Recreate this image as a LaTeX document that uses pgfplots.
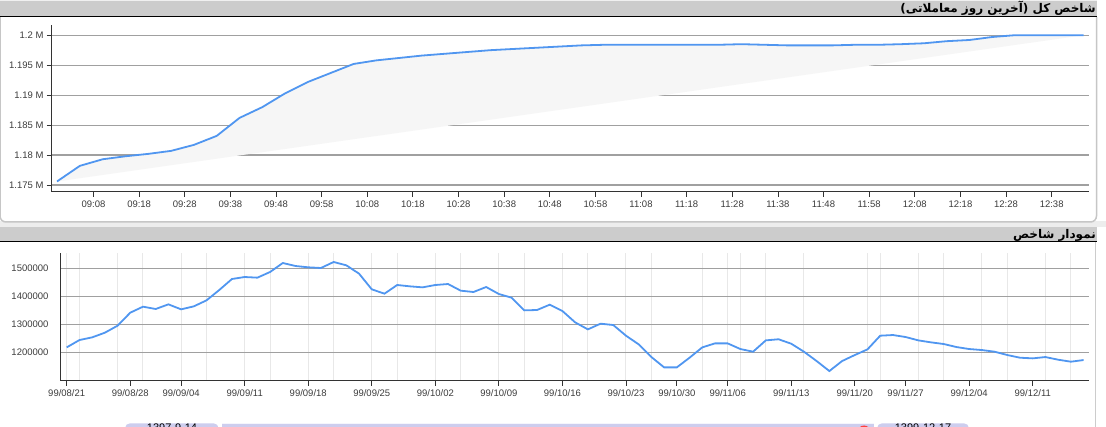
\documentclass[border=0pt]{standalone}
\usepackage{fontspec}
\setmainfont{Liberation Sans}
\newfontfamily\arabicfont[Script=Arabic]{DejaVu Sans}
\TeXXeTstate=1
\usepackage{pgfplots}
\pgfplotsset{compat=1.18}
\definecolor{hdrgray}{RGB}{204,204,204}
\definecolor{axisgray}{RGB}{51,51,51}
\definecolor{gridgray}{RGB}{160,160,160}
\definecolor{vgrid}{RGB}{232,232,232}
\definecolor{fillgray}{RGB}{246,246,246}
\definecolor{labelgray}{RGB}{60,60,60}
\definecolor{lavender}{RGB}{205,205,238}
\definecolor{lineblue}{RGB}{80,150,240}
\begin{document}
\begin{tikzpicture}
\path[use as bounding box] (0pt,0pt) rectangle (1106pt,-427pt);
% top header
\fill[hdrgray] (0pt,0pt) rectangle (1097pt,-16pt);
\fill[gray!12] (0pt,0pt) rectangle (1097pt,-1.5pt);
\draw[black, line width=1.5pt] (0pt,-16.5pt) -- (1097pt,-16.5pt);
\node[anchor=base east, inner sep=0pt] at (1096pt,-12.8pt) {\arabicfont\bfseries\fontsize{12}{13}\selectfont\beginR شاخص کل (آخرین روز معاملاتی)\endR};
% top panel border
\fill[gray!14] (0pt,-221pt) rectangle (1106pt,-227pt);
\draw[gray!45, line width=1.5pt, rounded corners=6pt, fill=white] (0pt,-17.2pt) -- (0pt,-222pt) -- (1096.5pt,-222pt) -- (1096.5pt,-17.2pt);
% bottom header
\fill[hdrgray] (0pt,-227pt) rectangle (1097pt,-241pt);
\draw[black, line width=1.5pt] (0pt,-241.5pt) -- (1097pt,-241.5pt);
\node[anchor=base east, inner sep=0pt] at (1096pt,-238.3pt) {\arabicfont\bfseries\fontsize{12}{13}\selectfont\beginR نمودار شاخص\endR};
\draw[gray!40, line width=1pt] (1095.5pt,-242pt) -- (1095.5pt,-427pt);

% top axis
\begin{axis}[
  at={(52pt,-192pt)}, anchor=south west,
  scale only axis, width=1037.3pt, height=167pt,
  xmin=-1.1, xmax=226.25, ymin=1.17384, ymax=1.2017,
  axis lines=left,
  axis line style={-, draw=axisgray, line width=1pt},
  xtick={8,18,...,218},
  xticklabels={09:08,09:18,09:28,09:38,09:48,09:58,10:08,10:18,10:28,10:38,10:48,10:58,11:08,11:18,11:28,11:38,11:48,11:58,12:08,12:18,12:28,12:38},
  ytick={1.175,1.18,1.185,1.19,1.195,1.2},
  yticklabels={1.175 M,1.18 M,1.185 M,1.19 M,1.195 M,1.2 M},
  scaled y ticks=false,
  ymajorgrids, grid style={gridgray, line width=1.2pt},
  tick align=outside, major tick length=5pt,
  tick style={axisgray, line width=0.8pt},
  ticklabel style={font=\fontsize{9.5}{11}\selectfont, text=labelgray},
  /pgf/number format/assume math mode=true,
]
\addplot[fill=fillgray, draw=none] coordinates {
(0,1.1756) (5,1.1782) (10,1.1793) (15,1.1798) (20,1.1802) (25,1.1807) (30,1.1817) (35,1.1832)
(40,1.1862) (45,1.1880) (50,1.1903) (55,1.1922) (60,1.1937) (65,1.1952) (70,1.1958) (75,1.1962)
(80,1.1966) (85,1.1969) (90,1.1972) (95,1.1975) (100,1.1977) (105,1.1979) (110,1.1981) (115,1.1983)
(120,1.1984) (125,1.1984) (130,1.1984) (135,1.1984) (140,1.1984) (145,1.1984) (150,1.1985) (155,1.1984)
(160,1.1983) (165,1.1983) (170,1.1983) (175,1.1984) (180,1.1984) (185,1.1985) (190,1.19865) (195,1.1990)
(200,1.1992) (205,1.1997) (210,1.2000) (215,1.2000) (220,1.2000) (225,1.2000)} -- cycle;
\addplot[lineblue, line width=1.8pt] coordinates {
(0,1.1756) (5,1.1782) (10,1.1793) (15,1.1798) (20,1.1802) (25,1.1807) (30,1.1817) (35,1.1832)
(40,1.1862) (45,1.1880) (50,1.1903) (55,1.1922) (60,1.1937) (65,1.1952) (70,1.1958) (75,1.1962)
(80,1.1966) (85,1.1969) (90,1.1972) (95,1.1975) (100,1.1977) (105,1.1979) (110,1.1981) (115,1.1983)
(120,1.1984) (125,1.1984) (130,1.1984) (135,1.1984) (140,1.1984) (145,1.1984) (150,1.1985) (155,1.1984)
(160,1.1983) (165,1.1983) (170,1.1983) (175,1.1984) (180,1.1984) (185,1.1985) (190,1.19865) (195,1.1990)
(200,1.1992) (205,1.1997) (210,1.2000) (215,1.2000) (220,1.2000) (225,1.2000)};
\end{axis}

% bottom axis
\begin{axis}[
  at={(61pt,-381pt)}, anchor=south west,
  scale only axis, width=1028pt, height=128.3pt,
  xmin=-0.45, xmax=80.43, ymin=1099000, ymax=1557000,
  axis lines=left,
  axis line style={-, draw=axisgray, line width=1pt},
  xtick={0,5,9,14,19,24,29,34,39,44,48,52,57,62,66,71,76},
  xticklabels={99/08/21,99/08/28,99/09/04,99/09/11,99/09/18,99/09/25,99/10/02,99/10/09,99/10/16,99/10/23,99/10/30,99/11/06,99/11/13,99/11/20,99/11/27,99/12/04,99/12/11},
  minor xtick={0,1,4,6,9,11,14,16,19,21,24,26,29,31,34,36,39,41,44,46,50,52,53,55,58,63,64,67,69,72,74,77,79},
  xminorgrids, minor grid style={vgrid, line width=1pt},
  minor tick length=0pt,
  ytick={1200000,1300000,1400000,1500000},
  yticklabels={1200000,1300000,1400000,1500000},
  scaled y ticks=false,
  ymajorgrids, major grid style={gridgray, line width=1.2pt},
  tick align=outside, major tick length=5pt,
  tick style={axisgray, line width=0.8pt},
  ytick style={draw=none},
  yticklabel style={xshift=-4pt},
  ticklabel style={font=\fontsize{9.5}{11}\selectfont, text=labelgray},
  /pgf/number format/assume math mode=true,
]
\addplot[lineblue, line width=1.8pt] coordinates {
(0,1219000) (1,1245200) (2,1254800) (3,1271400) (4,1296400) (5,1342900) (6,1364300) (7,1356000)
(8,1372600) (9,1354800) (10,1365500) (11,1386900) (12,1423800) (13,1463100) (14,1470200) (15,1467900)
(16,1488100) (17,1520200) (18,1509500) (19,1504800) (20,1502400) (21,1523800) (22,1511900) (23,1482100)
(24,1426200) (25,1410700) (26,1441700) (27,1436900) (28,1433300) (29,1441700) (30,1445200) (31,1421400)
(32,1416700) (33,1434500) (34,1409500) (35,1396400) (36,1351200) (37,1352400) (38,1371400) (39,1348800)
(40,1308300) (41,1283300) (42,1303600) (43,1298800) (44,1260700) (45,1229800) (46,1184500) (47,1147600)
(48,1147600) (49,1182100) (50,1219000) (51,1233300) (52,1233300) (53,1213100) (54,1203600) (55,1244000)
(56,1248000) (57,1232100) (58,1203600) (59,1170200) (60,1134500) (61,1170200) (62,1191700) (63,1211900)
(64,1260700) (65,1263100) (66,1256000) (67,1244000) (68,1236900) (69,1231000) (70,1220200) (71,1213100)
(72,1209500) (73,1203600) (74,1191700) (75,1182100) (76,1179800) (77,1184500) (78,1175000) (79,1167900)
(80,1173800)};
\end{axis}

% range selector at bottom (partly cut off, as in the reference)
\fill[lavender] (222pt,-423.5pt) rectangle (874pt,-432pt);
\draw[white!80!lavender] (222pt,-423.5pt) -- (874pt,-423.5pt);
\fill[lavender, rounded corners=5pt] (125pt,-423.3pt) rectangle (218.6pt,-436pt);
\fill[lavender, rounded corners=5pt] (877pt,-423.3pt) rectangle (969pt,-436pt);
\fill[red!75!white] (864pt,-432pt) circle (6.5pt);
\node[anchor=north, inner sep=0pt, font=\fontsize{11}{12}\selectfont] at (172pt,-424pt) {1397-9-14};
\node[anchor=north, inner sep=0pt, font=\fontsize{11}{12}\selectfont] at (923pt,-424pt) {1399-12-17};
\end{tikzpicture}
\end{document}
